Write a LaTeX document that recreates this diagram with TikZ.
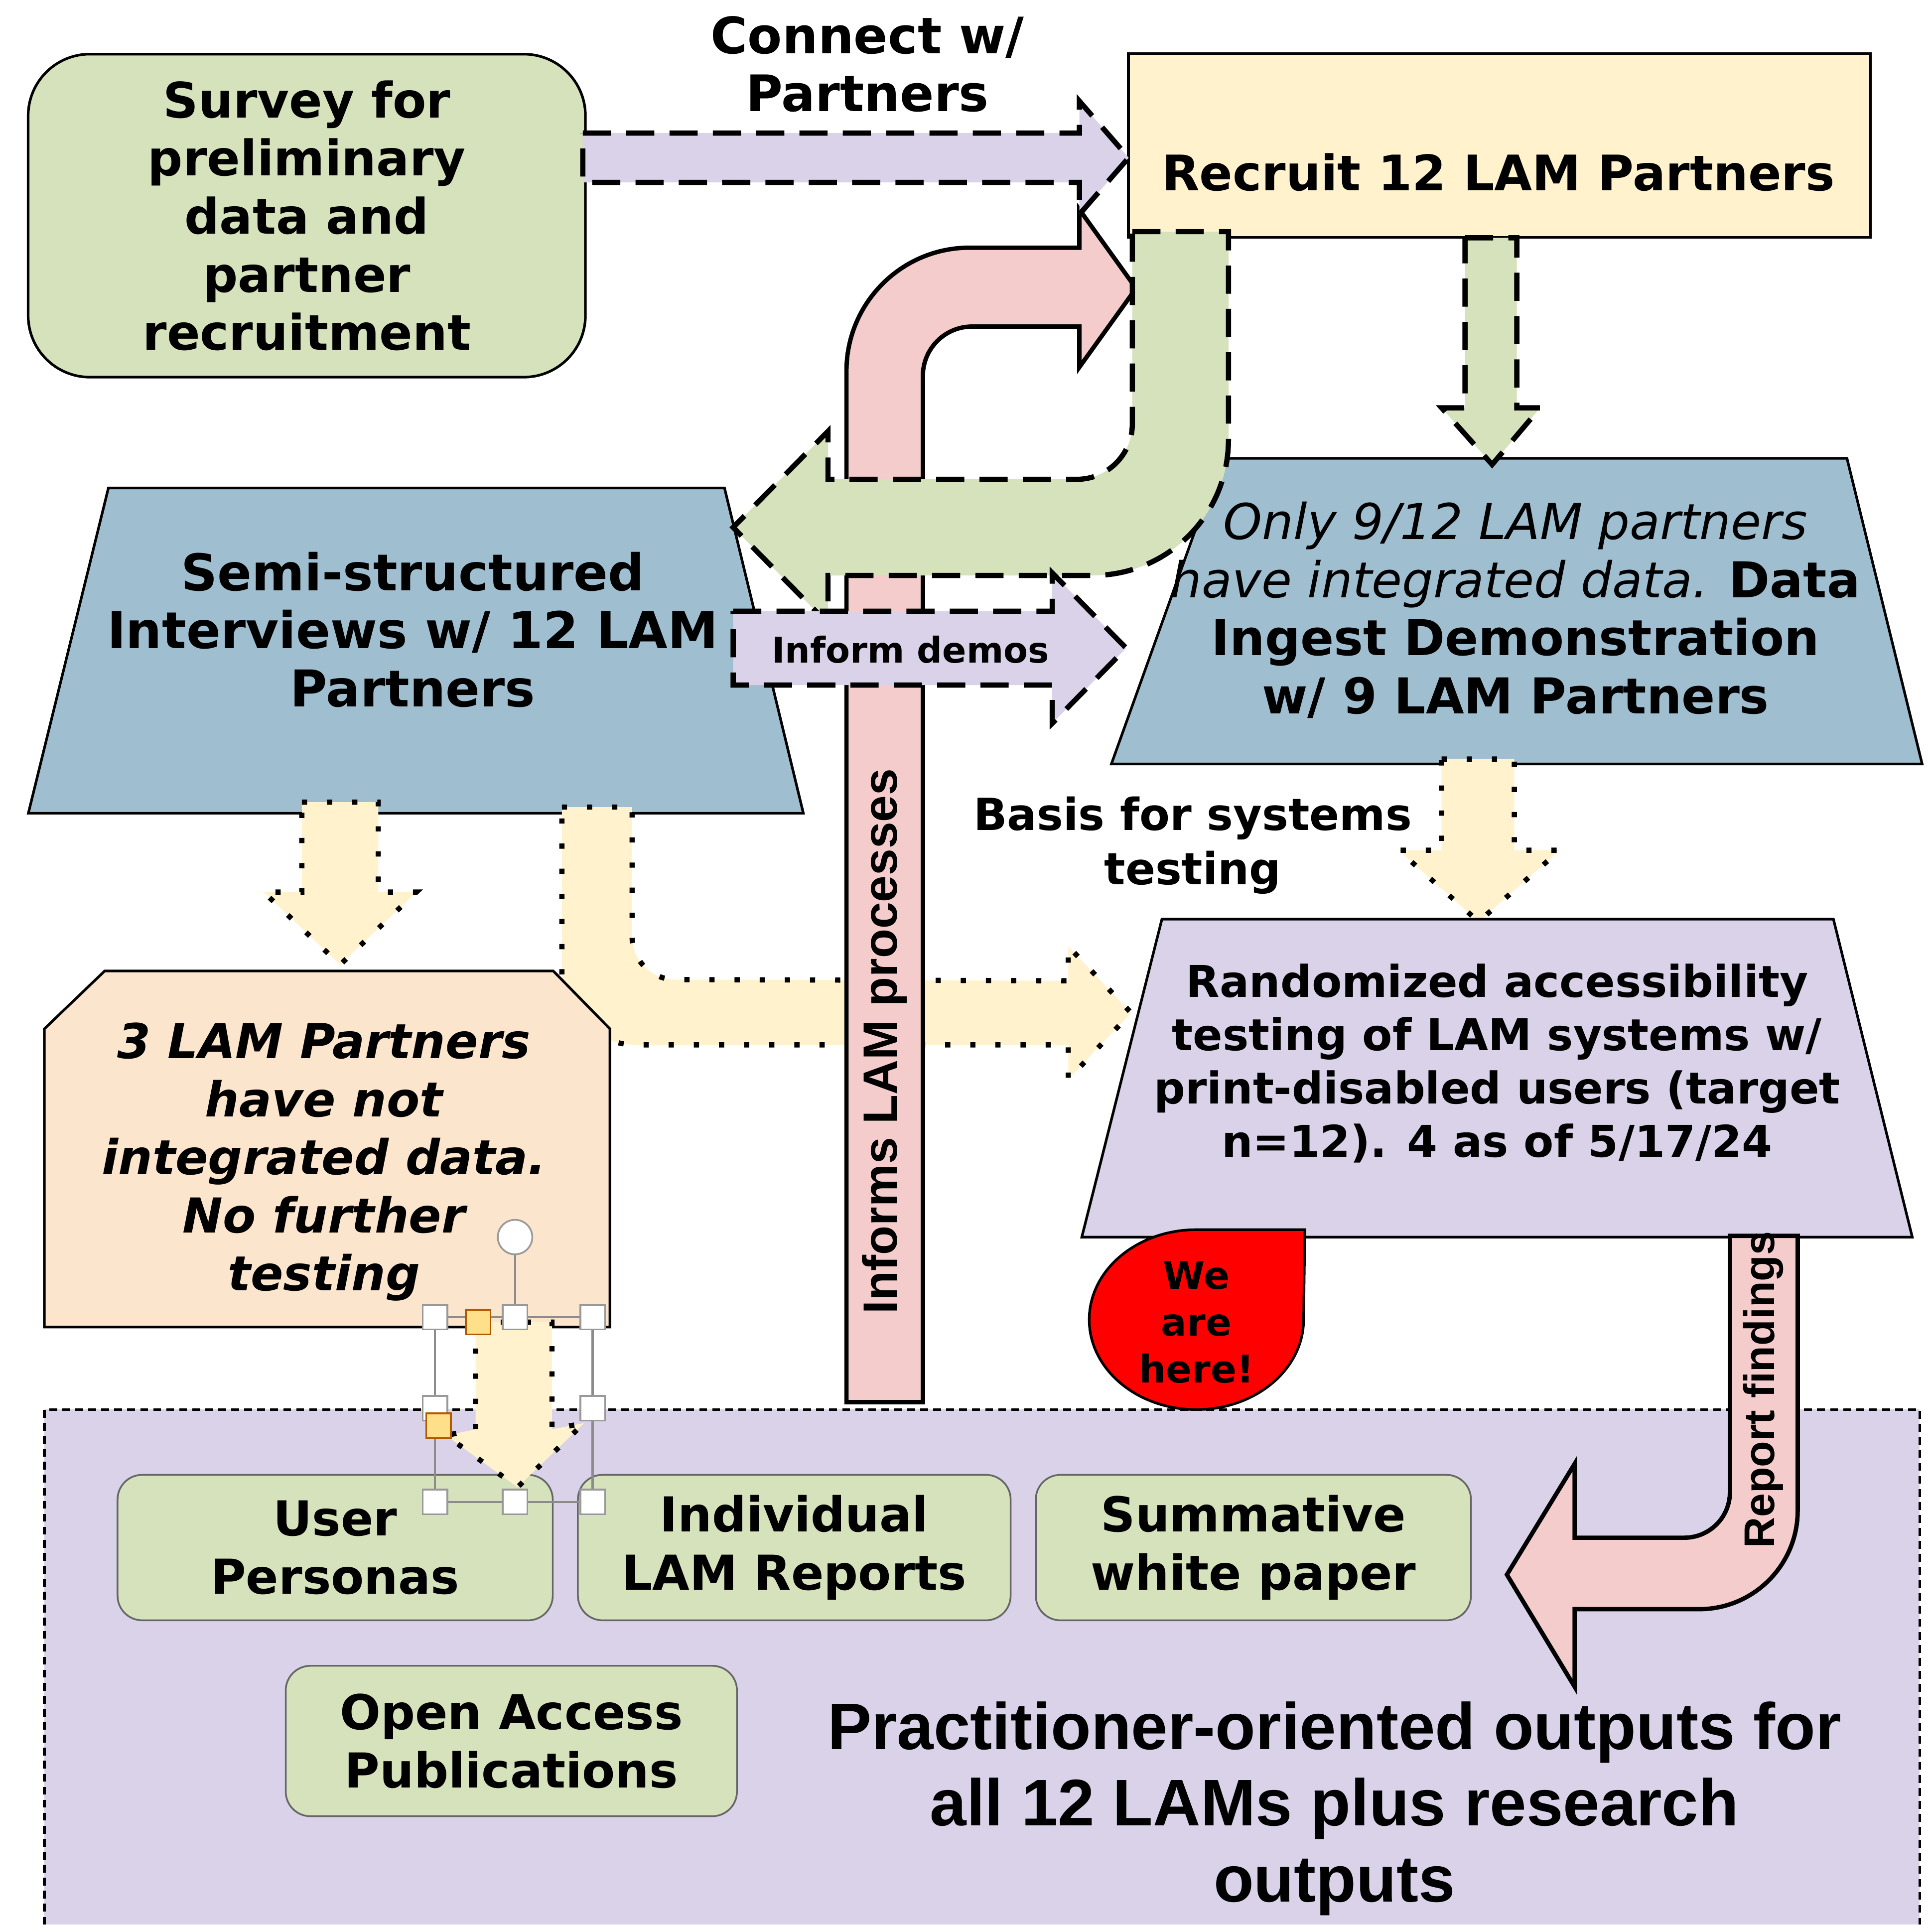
\documentclass[tikz,border=0pt]{standalone}
\usepackage{fontspec}
\setmainfont{DejaVu Sans}
\newfontfamily\arialfont{Liberation Sans}
\usetikzlibrary{positioning,calc}
\definecolor{boxgreen}{HTML}{D6E2BC}
\definecolor{boxyellow}{HTML}{FFF2CC}
\definecolor{boxblue}{HTML}{9FBFD1}
\definecolor{boxlilac}{HTML}{D9D2E9}
\definecolor{boxpeach}{HTML}{FCE5CD}
\definecolor{boxpink}{HTML}{F4CCCC}
\definecolor{handleyellow}{HTML}{FFE08A}
\begin{document}
\begin{tikzpicture}[x=0.01cm, y=-0.01cm,
    txt/.style={align=center, inner sep=0pt, font=\bfseries\fontsize{11.3}{13.4}\selectfont},
    outbox/.style={draw=black!60, fill=boxgreen, rounded corners=0.2cm, minimum width=3.53cm, minimum height=1.18cm, align=center, inner sep=0pt, font=\bfseries\fontsize{11.1}{13.4}\selectfont},
    blockshape/.style={draw=black, line width=0.6pt},
    dasharrow/.style={draw=black, line width=1.2pt, dash pattern=on 6.5pt off 3.5pt},
    dotarrow/.style={draw=black, line width=1.2pt, dash pattern=on 1.2pt off 4.6pt, fill=boxyellow},
    pinkarrow/.style={draw=black, line width=1pt, fill=boxpink},
    handle/.style={draw=black!40, fill=white, line width=0.4pt}]
  \useasboundingbox (0,0) rectangle (1568,1562);

  % outputs area
  \fill[boxlilac] (36,1144) rectangle (1558,1562);
  \draw[line width=0.6pt, dash pattern=on 1.8pt off 1.2pt] (36,1562) -- (36,1144) -- (1558,1144) -- (1558,1562);
  \node[outbox] (personas) at (272,1256) {User\\Personas};
  \node[outbox, minimum width=3.51cm, right=0.19cm of personas] (reports) {Individual\\LAM Reports};
  \node[outbox, right=0.19cm of reports] (paper) {Summative\\white paper};
  \node[outbox, minimum width=3.66cm, minimum height=1.22cm] (pubs) at (415,1413) {Open Access\\Publications};
  \node[align=center, font=\arialfont\bfseries\fontsize{15.2}{17.6}\selectfont] (outputs) at (1083,1468)
    {Practitioner-oriented outputs for\\all 12 LAMs plus research\\outputs};

  % boxes
  \node[draw=black, line width=0.6pt, fill=boxgreen, rounded corners=0.5cm, minimum width=4.52cm, minimum height=2.62cm, txt] (survey) at (249,175)
    {Survey for\\preliminary\\data and\\partner\\recruitment};
  \node[draw=black, line width=0.6pt, fill=boxyellow, minimum width=6.02cm, minimum height=1.49cm] (recruit) at (1217,118) {};
  \node[txt, font=\bfseries\fontsize{11.3}{13.4}\selectfont] (recruittxt) at (1216,140) {Recruit 12 LAM Partners};
  \filldraw[blockshape, fill=boxblue] (88,396) -- (588,396) -- (652,660) -- (23,660) -- cycle;
  \node[txt, font=\bfseries\fontsize{11.7}{13.4}\selectfont] (interviews) at (335,511) {Semi-structured\\Interviews w/ 12 LAM\\Partners};
  \filldraw[blockshape, fill=boxblue] (991,372) -- (1499,372) -- (1560,620) -- (902,620) -- cycle;

  % dotted arrows
  \path[dotarrow] (245,651) -- (307,651) -- (307,724) -- (338,724) -- (276,783) -- (214,724) -- (245,724) -- cycle;
  \path[dotarrow] (456,655) -- (513,655) -- (513,760) arc[start angle=180, end angle=90, radius=35]
    -- (867,796) -- (867,768) -- (918,822) -- (867,876) -- (867,848) -- (516,848)
    arc[start angle=90, end angle=180, radius=60] -- cycle;
  \path[dotarrow] (1170,616) -- (1229,616) -- (1229,690) -- (1266,690) -- (1200,748) -- (1135,690) -- (1170,690) -- cycle;

  \filldraw[blockshape, fill=boxpeach] (85,788) -- (449,788) -- (495,835) -- (495,1077) -- (36,1077) -- (36,835) -- cycle;
  \node[txt, font=\bfseries\itshape\fontsize{11.1}{13.4}\selectfont] (nodata) at (263,943)
    {3 LAM Partners\\have not\\integrated data.\\No further\\testing};
  \filldraw[blockshape, fill=boxlilac] (943,746) -- (1488,746) -- (1552,1004) -- (878,1004) -- cycle;
  \node[txt, font=\bfseries\fontsize{10.1}{12.3}\selectfont] (testing) at (1215,863)
    {Randomized accessibility\\testing of LAM systems w/\\print-disabled users (target\\n=12). 4 as of 5/17/24};

  % pink loop up to recruit
  \path[pinkarrow] (687,1138) -- (687,301) arc[start angle=180, end angle=270, radius=100]
    -- (876,201) -- (876,170) -- (922,234) -- (876,298) -- (876,265) -- (789,265)
    arc[start angle=270, end angle=180, radius=40] -- (749,1138) -- cycle;
  \node[rotate=90, font=\arialfont\bfseries\fontsize{11.1}{12}\selectfont] (informs) at (718,845) {Informs LAM processes};

  % dashed arrows
  \path[dasharrow, fill=boxlilac] (473,108) -- (876,108) -- (876,82) -- (916,128) -- (876,174) -- (876,148) -- (473,148) -- cycle;
  \node[txt, font=\bfseries\fontsize{11.6}{13.4}\selectfont] (connect) at (704,52) {Connect w/\\Partners};
  \path[dasharrow, fill=boxgreen] (919,188) -- (997,188) -- (997,357) arc[start angle=0, end angle=90, radius=110]
    -- (672,467) -- (672,506) -- (595,428) -- (672,350) -- (672,389) -- (874,389)
    arc[start angle=90, end angle=0, radius=45] -- cycle;
  \path[dasharrow, fill=boxgreen] (1189,193) -- (1231,193) -- (1231,331) -- (1250,331) -- (1211,377) -- (1170,331) -- (1189,331) -- cycle;
  \path[dasharrow, fill=boxlilac] (595,496) -- (854,496) -- (854,465) -- (914,526) -- (854,587) -- (854,556) -- (595,556) -- cycle;
  \node[txt, font=\bfseries\fontsize{8.2}{9}\selectfont] (demos) at (739,527) {Inform demos};
  \node[txt, font=\bfseries\fontsize{10.2}{12.6}\selectfont] (basis) at (968,686) {Basis for systems\\testing};
  \node[txt, font=\bfseries\fontsize{11.4}{13.4}\selectfont] (ingest) at (1230,495) {\mdseries\itshape Only 9/12 LAM partners\\
    \mdseries\itshape have integrated data. \bfseries\upshape Data\\Ingest Demonstration\\w/ 9 LAM Partners};

  % pink arrow back to outputs
  \path[pinkarrow] (1404,1003) -- (1459,1003) -- (1459,1226) arc[start angle=0, end angle=90, radius=80]
    -- (1278,1306) -- (1278,1369) -- (1223,1278) -- (1278,1188) -- (1278,1248) -- (1367,1248)
    arc[start angle=90, end angle=0, radius=37] -- cycle;
  \node[rotate=90, font=\arialfont\bfseries\fontsize{9.9}{10}\selectfont] (findings) at (1431,1128) {Report findings};

  % we are here
  \filldraw[draw=black, line width=0.6pt, fill=red] (1059,998) -- (971,998) arc[start angle=270, end angle=180, x radius=87, y radius=73]
    arc[start angle=180, end angle=90, x radius=87, y radius=73]
    arc[start angle=90, end angle=0, x radius=87, y radius=73] -- cycle;
  \node[txt, font=\bfseries\fontsize{8.8}{10.8}\selectfont] (here) at (971,1073) {We\\are\\here!};

  % selected arrow with its handles
  \path[dotarrow] (386,1073) -- (448,1073) -- (448,1160) -- (474,1155) -- (420,1207) -- (362,1165) -- (386,1160) -- cycle;
  \draw[black!45, line width=0.5pt] (353,1069) rectangle (481,1219) (418,1069) -- (418,1018);
  \filldraw[handle] (418,1004) circle[radius=14];
  \foreach \hx/\hy in {353/1069, 418/1069, 481/1069, 353/1143, 481/1143, 353/1219, 418/1219, 481/1219}
    \filldraw[handle] (\hx-10,\hy-10) rectangle (\hx+10,\hy+10);
  \filldraw[handle, draw=orange!70!black, fill=handleyellow] (378,1063) rectangle (398,1083);
  \filldraw[handle, draw=orange!70!black, fill=handleyellow] (346,1147) rectangle (366,1167);
\end{tikzpicture}
\end{document}
